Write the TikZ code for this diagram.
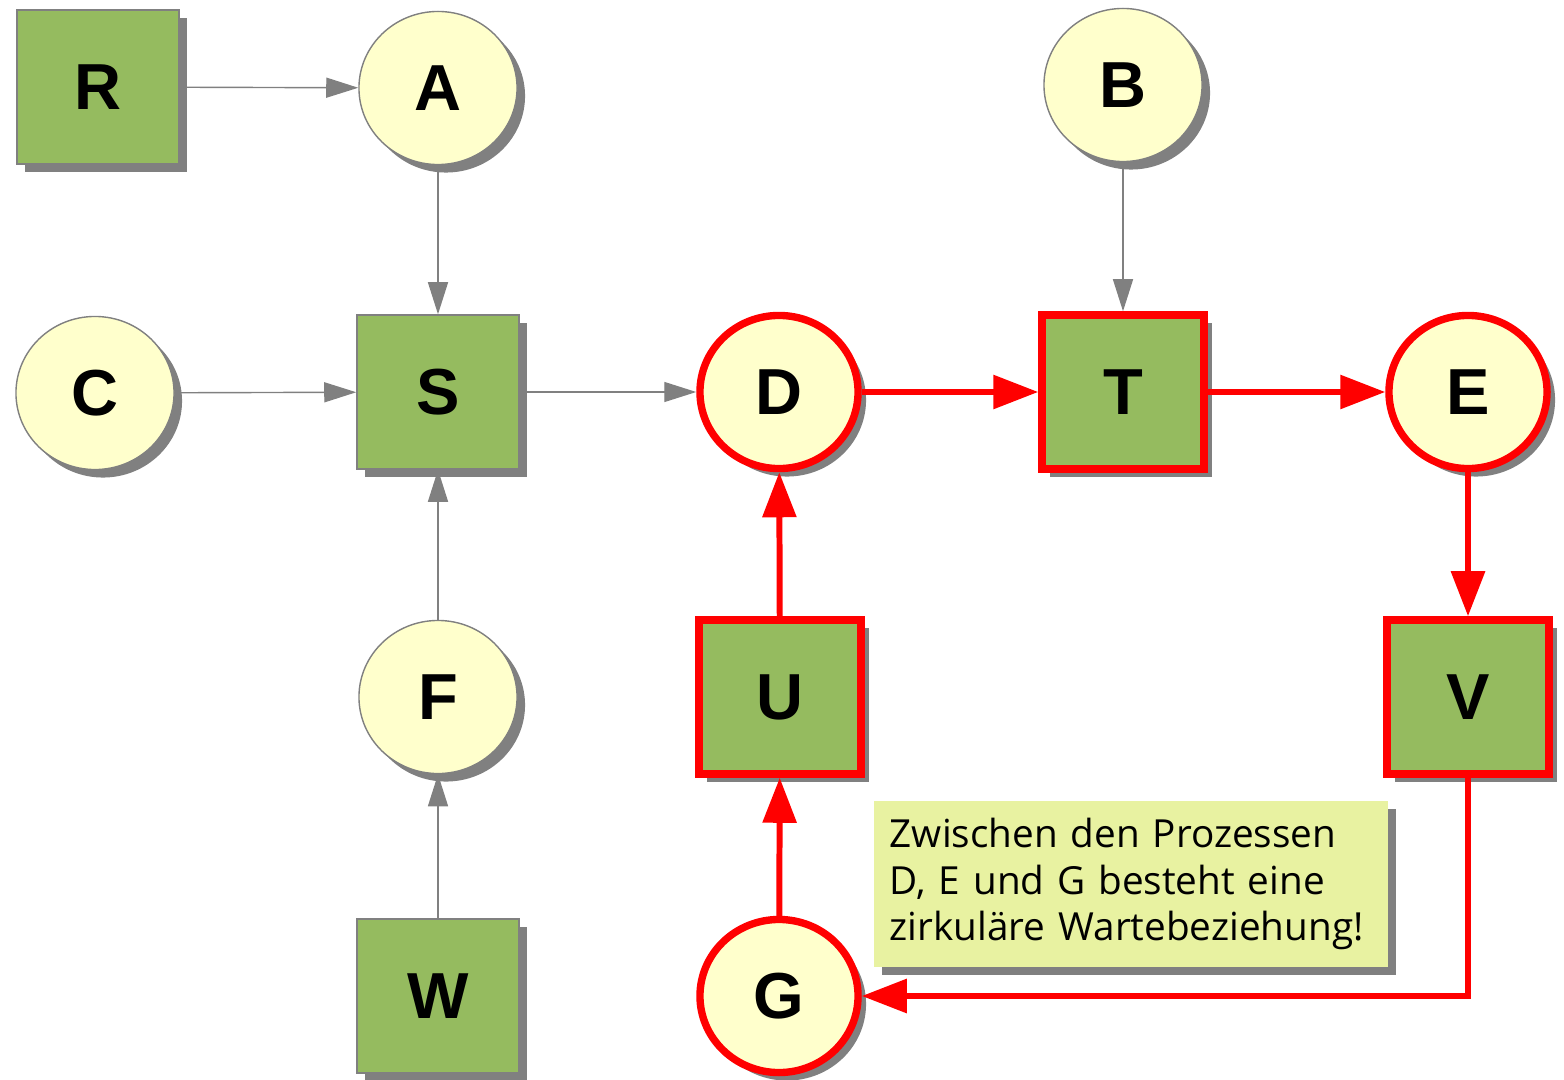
\documentclass[tikz,border=0pt]{standalone}
\usepackage{fontspec}
\setmainfont{Liberation Sans}
\newfontfamily\notefont{Open Sans}
\usetikzlibrary{arrows.meta}
\usetikzlibrary{shadows}
\usetikzlibrary{shapes.geometric}
\definecolor{resgreen}{HTML}{95BB5F}
\definecolor{procyellow}{HTML}{FFFFCC}
\definecolor{notegreen}{HTML}{E8F2A1}
\definecolor{linegrey}{HTML}{808080}

\begin{document}
\begin{tikzpicture}[x=0.01cm,y=-0.01cm,
  every node/.style={font=\fontsize{18.5}{20}\selectfont\bfseries},
  shade/.style={drop shadow={shadow xshift=.08cm,shadow yshift=-.08cm,fill=linegrey,opacity=1,draw=none}},
  res/.style={shade,draw=linegrey,line width=0.4pt,fill=resgreen,rectangle,minimum width=1.62cm,minimum height=1.54cm,inner sep=0pt},
  proc/.style={shade,draw=linegrey,line width=0.4pt,fill=procyellow,ellipse,minimum width=1.58cm,minimum height=1.53cm,inner sep=0pt},
  hot/.style={draw=red,line width=2.1pt},
  wait/.style={draw=linegrey,line width=0.4pt,-{Triangle[length=0.32cm,width=0.2cm]}},
  cycle/.style={draw=red,line width=1.7pt,-{Triangle[length=0.45cm,width=0.33cm]}}]
  \useasboundingbox (0,0) rectangle (1564,1079);

  \node[res] (R) at (98,87) {R};
  \node[proc] (A) at (438,88) {A};
  \node[proc] (B) at (1123,85) {B};

  \node[proc] (C) at (95,393) {C};
  \node[res] (S) at (438,392) {S};
  \node[proc,hot] (D) at (779,392) {D};
  \node[res,hot] (T) at (1123,392) {T};
  \node[proc,hot] (E) at (1468,392) {E};

  \node[proc] (F) at (438,697) {F};
  \node[res,hot] (U) at (780,697) {U};
  \node[res,hot] (V) at (1468,697) {V};

  \node[res] (W) at (438,996) {W};
  \node[proc,hot] (G) at (779,996) {G};

  \node[shade,fill=notegreen,rectangle,text width=4.82cm,minimum height=1.66cm,inner xsep=.16cm,align=left,font=\notefont\fontsize{11}{13.1}\selectfont] (note) at (1131,884)
    {Zwischen den Prozessen\\D, E und G besteht eine\\zirkuläre Wartebeziehung!};

  \draw[wait](R)--(A);
  \draw[wait](A)--(S);
  \draw[wait](C)--(S);
  \draw[wait](S)--(D);
  \draw[wait](F)--(S);
  \draw[wait](W)--(F);
  \draw[wait](B)--(T);

  \draw[cycle](D)--(T);
  \draw[cycle](T)--(E);
  \draw[cycle](E)--(V);
  \draw[cycle](V.south)|-(G.east);
  \draw[cycle](G)--(U);
  \draw[cycle](U)--(D);
\end{tikzpicture}
\end{document}
